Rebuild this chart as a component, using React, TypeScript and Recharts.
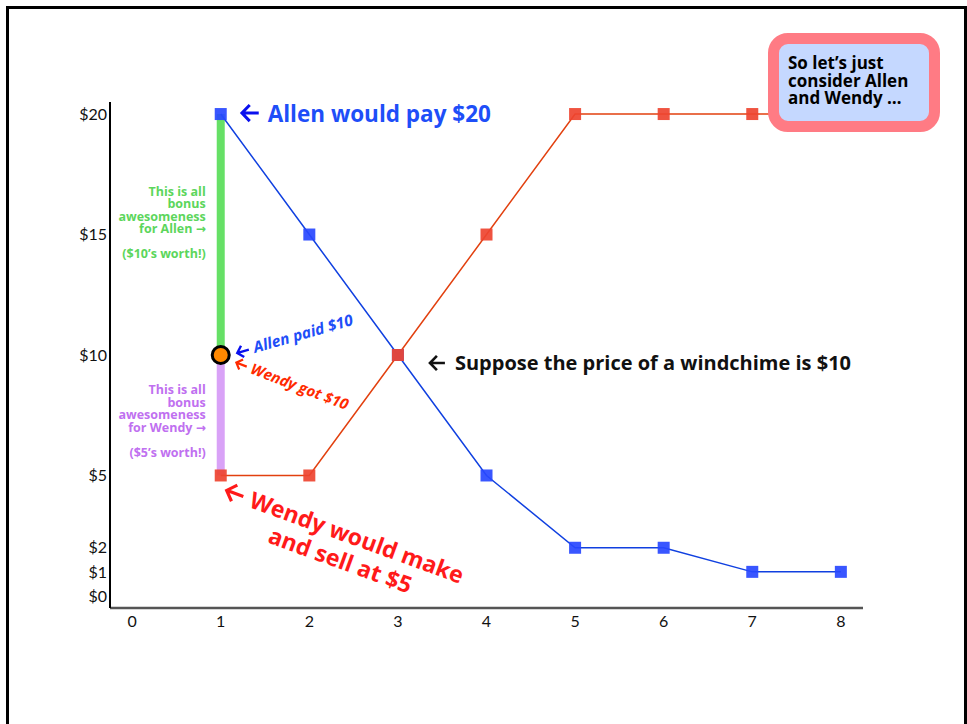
import React from 'react';
import { LineChart, Line, XAxis, YAxis, ReferenceLine, ReferenceDot } from 'recharts';

const quantities = [1, 2, 3, 4, 5, 6, 7, 8];
const allenValues = [20, 15, 10, 5, 2, 2, 1, 1];
const wendyValues = [5, 5, 10, 15, 20, 20, 20, 20];
const xTicks = [0, 1, 2, 3, 4, 5, 6, 7, 8];
const yTicks = [0, 1, 2, 5, 10, 15, 20];
const price = 10;
const allenMax = 20;
const wendyMin = 5;
const focusQ = 1;
const crossQ = 3;

const rows = quantities.map((q, i) => ({ q, allen: allenValues[i], wendy: wendyValues[i] }));

const TICK_FONT = "Lato, 'DejaVu Sans', sans-serif";
const FONT = "'Open Sans', 'DejaVu Sans', sans-serif";
const ARROW_FONT = "'DejaVu Sans', sans-serif";
const BLUE_LINE = '#1040e0';
const BLUE_MARK = '#2848ff';
const RED_LINE = '#e2400f';
const RED_MARK = '#ee4430';
const GREEN = '#66e066';
const GREEN_TXT = '#5cd65c';
const PURPLE = '#d9a2f7';
const PURPLE_TXT = '#c070f0';
const RIGHT = '\u2192';

const squareDot = (color: string, name: string) => (p: any) => (
  <rect key={`${name}-${p.index}`} x={p.cx - 6} y={p.cy - 6} width={12} height={12} fill={color} fillOpacity={0.92} />
);

const at = (draw: (cx: number, cy: number) => React.ReactNode) => (props: any) => {
  const vb = props.viewBox || {};
  const cx = (vb.x ?? 0) + (vb.width ?? 0) / 2;
  const cy = (vb.y ?? 0) + (vb.height ?? 0) / 2;
  return <g>{draw(cx, cy)}</g>;
};

// left-pointing annotation arrow glyph, drawn as a path
const LeftArrow = ({ x, y, w, color, sw }: { x: number; y: number; w: number; color: string; sw: number }) => (
  <path
    d={`M${x + w},${y} L${x + sw * 0.6},${y} M${x + w * 0.5},${y - w * 0.45} L${x + sw * 0.4},${y} L${x + w * 0.5},${y + w * 0.45}`}
    stroke={color} strokeWidth={sw} fill="none" strokeLinejoin="miter" strokeLinecap="butt"
  />
);

const greenLines = ['This is all', 'bonus', 'awesomeness', 'for Allen '];
const greenNote = '($10’s worth!)';
const purpleLines = ['This is all', 'bonus', 'awesomeness', 'for Wendy '];
const purpleNote = '($5’s worth!)';

const Block = ({ x, y, lines, note, color }: { x: number; y: number; lines: string[]; note: string; color: string }) => (
  <text x={x} y={y} textAnchor="end" fontSize={12.5} fontWeight="bold" fill={color} fontFamily={FONT}>
    {lines.map((t, i) => (
      <tspan key={i} x={x} dy={i === 0 ? 0 : 12.5}>
        {i === lines.length - 1 ? (
          <>
            {t}
            <tspan fontFamily={ARROW_FONT} fontSize={12}>{RIGHT}</tspan>
          </>
        ) : t}
      </tspan>
    ))}
    <tspan x={x} dy={25}>{note}</tspan>
  </text>
);

export default function App() {
  return (
    <div style={{ position: 'absolute', left: 0, top: 0, width: 967, height: 724, background: '#fff', overflow: 'hidden' }}>
      <div
        style={{
          position: 'absolute', left: 6, top: 6, width: 961, height: 718, boxSizing: 'border-box',
          borderTop: '3px solid #000', borderLeft: '3px solid #000', borderRight: '3px solid #000',
        }}
      />
      <div style={{ position: 'absolute', left: 0, top: 0 }}>
        <LineChart width={967} height={724} data={rows} margin={{ top: 102, right: 104, bottom: 86, left: 60 }}>
          <XAxis
            type="number" dataKey="q" domain={[-0.25, 8.25]} ticks={xTicks} height={30}
            tickLine={false} axisLine={{ stroke: '#555', strokeWidth: 2.5 }}
            tick={{ fontSize: 16, fill: '#111', fontFamily: TICK_FONT }} interval={0}
          />
          <YAxis
            type="number" domain={[-0.5, 20.5]} ticks={yTicks} width={50} interval={0}
            tickLine={false} tickSize={0} tickMargin={3} axisLine={{ stroke: '#000', strokeWidth: 2 }}
            tick={{ fontSize: 16, fill: '#111', fontFamily: TICK_FONT }} tickFormatter={(v: number) => `$${v}`}
          />
          <ReferenceLine segment={[{ x: focusQ, y: price }, { x: focusQ, y: allenMax }]} stroke={GREEN} strokeWidth={8} ifOverflow="visible" />
          <ReferenceLine segment={[{ x: focusQ, y: wendyMin }, { x: focusQ, y: price }]} stroke={PURPLE} strokeWidth={8} ifOverflow="visible" />
          <Line type="linear" dataKey="allen" stroke={BLUE_LINE} strokeWidth={1.5} dot={squareDot(BLUE_MARK, 'a')} activeDot={false} isAnimationActive={false} />
          <Line type="linear" dataKey="wendy" stroke={RED_LINE} strokeWidth={1.5} dot={squareDot(RED_MARK, 'w')} activeDot={false} isAnimationActive={false} />
          <ReferenceDot x={focusQ} y={price} r={8.5} fill="#ff8800" stroke="#000" strokeWidth={3} ifOverflow="visible" />

          <ReferenceDot x={focusQ} y={allenMax} r={0.01} fill="none" stroke="none" ifOverflow="visible"
            label={at((cx, cy) => (
              <g>
                <LeftArrow x={cx + 20} y={cy - 1} w={18} color="#0a10ee" sw={3} />
                <text x={cx + 47} y={cy + 8} fontSize={22.5} fontWeight="bold" fontFamily={FONT} fill="#1e4ef8">Allen would pay $20</text>
              </g>
            ))}
          />
          <ReferenceDot x={focusQ} y={15} r={0.01} fill="none" stroke="none" ifOverflow="visible"
            label={at((cx, cy) => (
              <Block x={cx - 15} y={cy - 39} lines={greenLines} note={greenNote} color={GREEN_TXT} />
            ))}
          />
          <ReferenceDot x={focusQ} y={wendyMin} r={0.01} fill="none" stroke="none" ifOverflow="visible"
            label={at((cx, cy) => (
              <g>
                <Block x={cx - 15} y={cy - 81} lines={purpleLines} note={purpleNote} color={PURPLE_TXT} />
                <g transform={`translate(${cx + 2},${cy + 22}) rotate(20)`}>
                  <LeftArrow x={0} y={-8} w={19} color="#ff1a1a" sw={3.2} />
                  <text x={0} y={0} fontSize={23} fontWeight="bold" fill="#ff1a1a" fontFamily={FONT}>
                    <tspan x={27} dy={0}>Wendy would make</tspan>
                    <tspan x={132} dy={27} textAnchor="middle">and sell at $5</tspan>
                  </text>
                </g>
              </g>
            ))}
          />
          <ReferenceDot x={focusQ} y={price} r={0.01} fill="none" stroke="none" ifOverflow="visible"
            label={at((cx, cy) => (
              <g>
                <g transform={`translate(${cx + 17},${cy + 3}) rotate(-16)`}>
                  <LeftArrow x={0} y={-5} w={13} color="#0a10ee" sw={2.4} />
                  <text x={18} y={0} fontSize={15.5} fontWeight="bold" fontStyle="italic" fill="#1e4ef8" fontFamily={FONT}>Allen paid $10</text>
                </g>
                <g transform={`translate(${cx + 13},${cy + 12}) rotate(21)`}>
                  <LeftArrow x={0} y={-5} w={12} color="#ff2a00" sw={2.2} />
                  <text x={17} y={0} fontSize={15} fontWeight="bold" fontStyle="italic" fill="#ff2a00" fontFamily={FONT}>Wendy got $10</text>
                </g>
              </g>
            ))}
          />
          <ReferenceDot x={crossQ} y={price} r={0.01} fill="none" stroke="none" ifOverflow="visible"
            label={at((cx, cy) => (
              <g>
                <LeftArrow x={cx + 31} y={cy + 8} w={16} color="#111" sw={2.6} />
                <text x={cx + 57} y={cy + 15} fontSize={20} fontWeight="bold" fill="#111" fontFamily={FONT}>
                  Suppose the price of a windchime is $10
                </text>
              </g>
            ))}
          />
        </LineChart>
      </div>
      <div
        style={{
          position: 'absolute', left: 768, top: 33, width: 172, height: 99, boxSizing: 'border-box',
          border: '11px solid #ff7b84', borderRadius: 20, background: '#c5d8ff',
          padding: '10px 0 0 9px', fontFamily: FONT, fontWeight: 'bold', fontSize: 17, lineHeight: '17.5px', color: '#000',
          whiteSpace: 'nowrap',
        }}
      >
        So let’s just<br />consider Allen<br />and Wendy …
      </div>
    </div>
  );
}
